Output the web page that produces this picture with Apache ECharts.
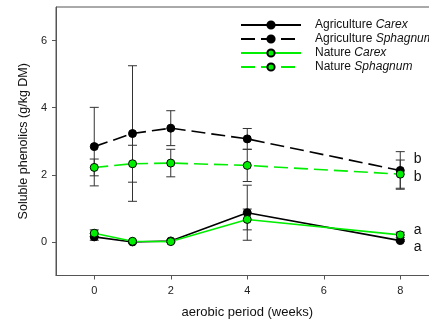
<!DOCTYPE html>
<html><head><meta charset="utf-8">
<script src="https://cdn.jsdelivr.net/npm/echarts@6/dist/echarts.min.js"></script>
<style>html,body{margin:0;padding:0;background:#fff}#c{width:429px;height:322px}</style>
</head><body><div id="c"></div>
<script>
const weeks = [0, 1, 2, 4, 8];
const agCarex = [0.15, 0.0, 0.03, 0.87, 0.04];
const agCarexErr = [0.1, 0.03, 0.03, 0.82, 0.03];
const agSphag = [2.84, 3.23, 3.39, 3.07, 2.13];
const agSphagErr = [1.17, 2.02, 0.52, 0.31, 0.56];
const natCarex = [0.26, 0.02, 0.01, 0.67, 0.21];
const natCarexErr = [0.1, 0.02, 0.02, 0.31, 0.08];
const natSphag = [2.22, 2.33, 2.35, 2.28, 2.02];
const natSphagErr = [0.25, 0.55, 0.41, 0.48, 0.42];
const letters = ['a', 'b', 'a', 'b'];
const names = ['Agriculture Carex', 'Agriculture Sphagnum', 'Nature Carex', 'Nature Sphagnum'];
const xTicks = [0, 2, 4, 6, 8];
const yTicks = [0, 2, 4, 6];

const GREEN = '#00ee00';
const defs = [
  {vals: agCarex, err: agCarexErr, color: '#000', fill: '#000', dash: 'solid', off: [0, 7]},
  {vals: agSphag, err: agSphagErr, color: '#000', fill: '#000', dash: [14, 6], off: [0, -11]},
  {vals: natCarex, err: natCarexErr, color: GREEN, fill: GREEN, dash: 'solid', off: [0, -5]},
  {vals: natSphag, err: natSphagErr, color: GREEN, fill: GREEN, dash: [14, 6], off: [0, 3]}
];

const series = [];
defs.forEach((d, i) => {
  series.push({
    type: 'custom', name: names[i] + ' err', z: 1, silent: true,
    data: weeks.map((w, k) => [w, d.vals[k] - d.err[k], d.vals[k] + d.err[k]]),
    renderItem: function (params, api) {
      const lo = api.coord([api.value(0), api.value(1)]);
      const hi = api.coord([api.value(0), api.value(2)]);
      const h = 4.5;
      const st = {stroke: '#333', lineWidth: 1};
      return {type: 'group', children: [
        {type: 'line', shape: {x1: lo[0], y1: lo[1], x2: hi[0], y2: hi[1]}, style: st},
        {type: 'line', shape: {x1: lo[0] - h, y1: lo[1], x2: lo[0] + h, y2: lo[1]}, style: st},
        {type: 'line', shape: {x1: hi[0] - h, y1: hi[1], x2: hi[0] + h, y2: hi[1]}, style: st}
      ]};
    }
  });
});
defs.forEach((d, i) => {
  series.push({
    type: 'line', name: names[i], z: 3 + i,
    symbol: 'circle', symbolSize: 8, showAllSymbol: true,
    lineStyle: {color: d.color, width: 1.6, type: d.dash},
    itemStyle: {color: d.fill, borderColor: '#000', borderWidth: 1},
    emphasis: {disabled: true},
    data: weeks.map((w, k) => {
      const item = {value: [w, d.vals[k]]};
      if (k === weeks.length - 1) {
        item.label = {show: true, position: 'right', distance: 9, offset: d.off,
          formatter: letters[i], color: '#111', fontSize: 14, fontFamily: 'Liberation Sans'};
      }
      return item;
    })
  });
});

const chart = echarts.init(document.getElementById('c'), null, {renderer: 'canvas'});
chart.setOption({
  animation: false,
  textStyle: {fontFamily: 'Liberation Sans'},
  grid: {left: 56, top: 7, width: 382.5, height: 268.5, show: true, borderColor: '#555', borderWidth: 1,
         containLabel: false, outerBoundsMode: 'none'},
  legend: {
    left: 240, top: 19, padding: 0, orient: 'vertical', itemWidth: 60, itemHeight: 9, itemGap: 2,
    data: names,
    formatter: function (n) {
      const p = n.split(' ');
      return '{n|' + p[0] + ' }{i|' + p[1] + '}';
    },
    textStyle: {
      color: '#111', fontSize: 12, lineHeight: 12, padding: [0, 0, 0, 9],
      rich: {n: {fontSize: 12, color: '#111'}, i: {fontSize: 12, color: '#111', fontStyle: 'italic'}}
    }
  },
  xAxis: {
    type: 'value', min: -1, max: 9,
    name: 'aerobic period (weeks)', nameLocation: 'middle', nameGap: 30,
    nameTextStyle: {fontSize: 13, color: '#111'},
    axisLine: {show: true, onZero: false, lineStyle: {color: '#555'}},
    axisTick: {show: true, length: 4, inside: false, customValues: xTicks, lineStyle: {color: '#555'}},
    axisLabel: {fontSize: 11, color: '#222', margin: 10, customValues: xTicks},
    splitLine: {show: false}
  },
  yAxis: {
    type: 'value', min: -1, max: 7,
    name: 'Soluble phenolics (g/kg DM)', nameLocation: 'middle', nameGap: 26,
    nameTextStyle: {fontSize: 12.5, color: '#111'},
    axisLine: {show: true, onZero: false, lineStyle: {color: '#555'}},
    axisTick: {show: true, length: 4, inside: false, customValues: yTicks, lineStyle: {color: '#555'}},
    axisLabel: {fontSize: 11, color: '#222', margin: 9, customValues: yTicks},
    splitLine: {show: false}
  },
  series: series
});
</script></body></html>
